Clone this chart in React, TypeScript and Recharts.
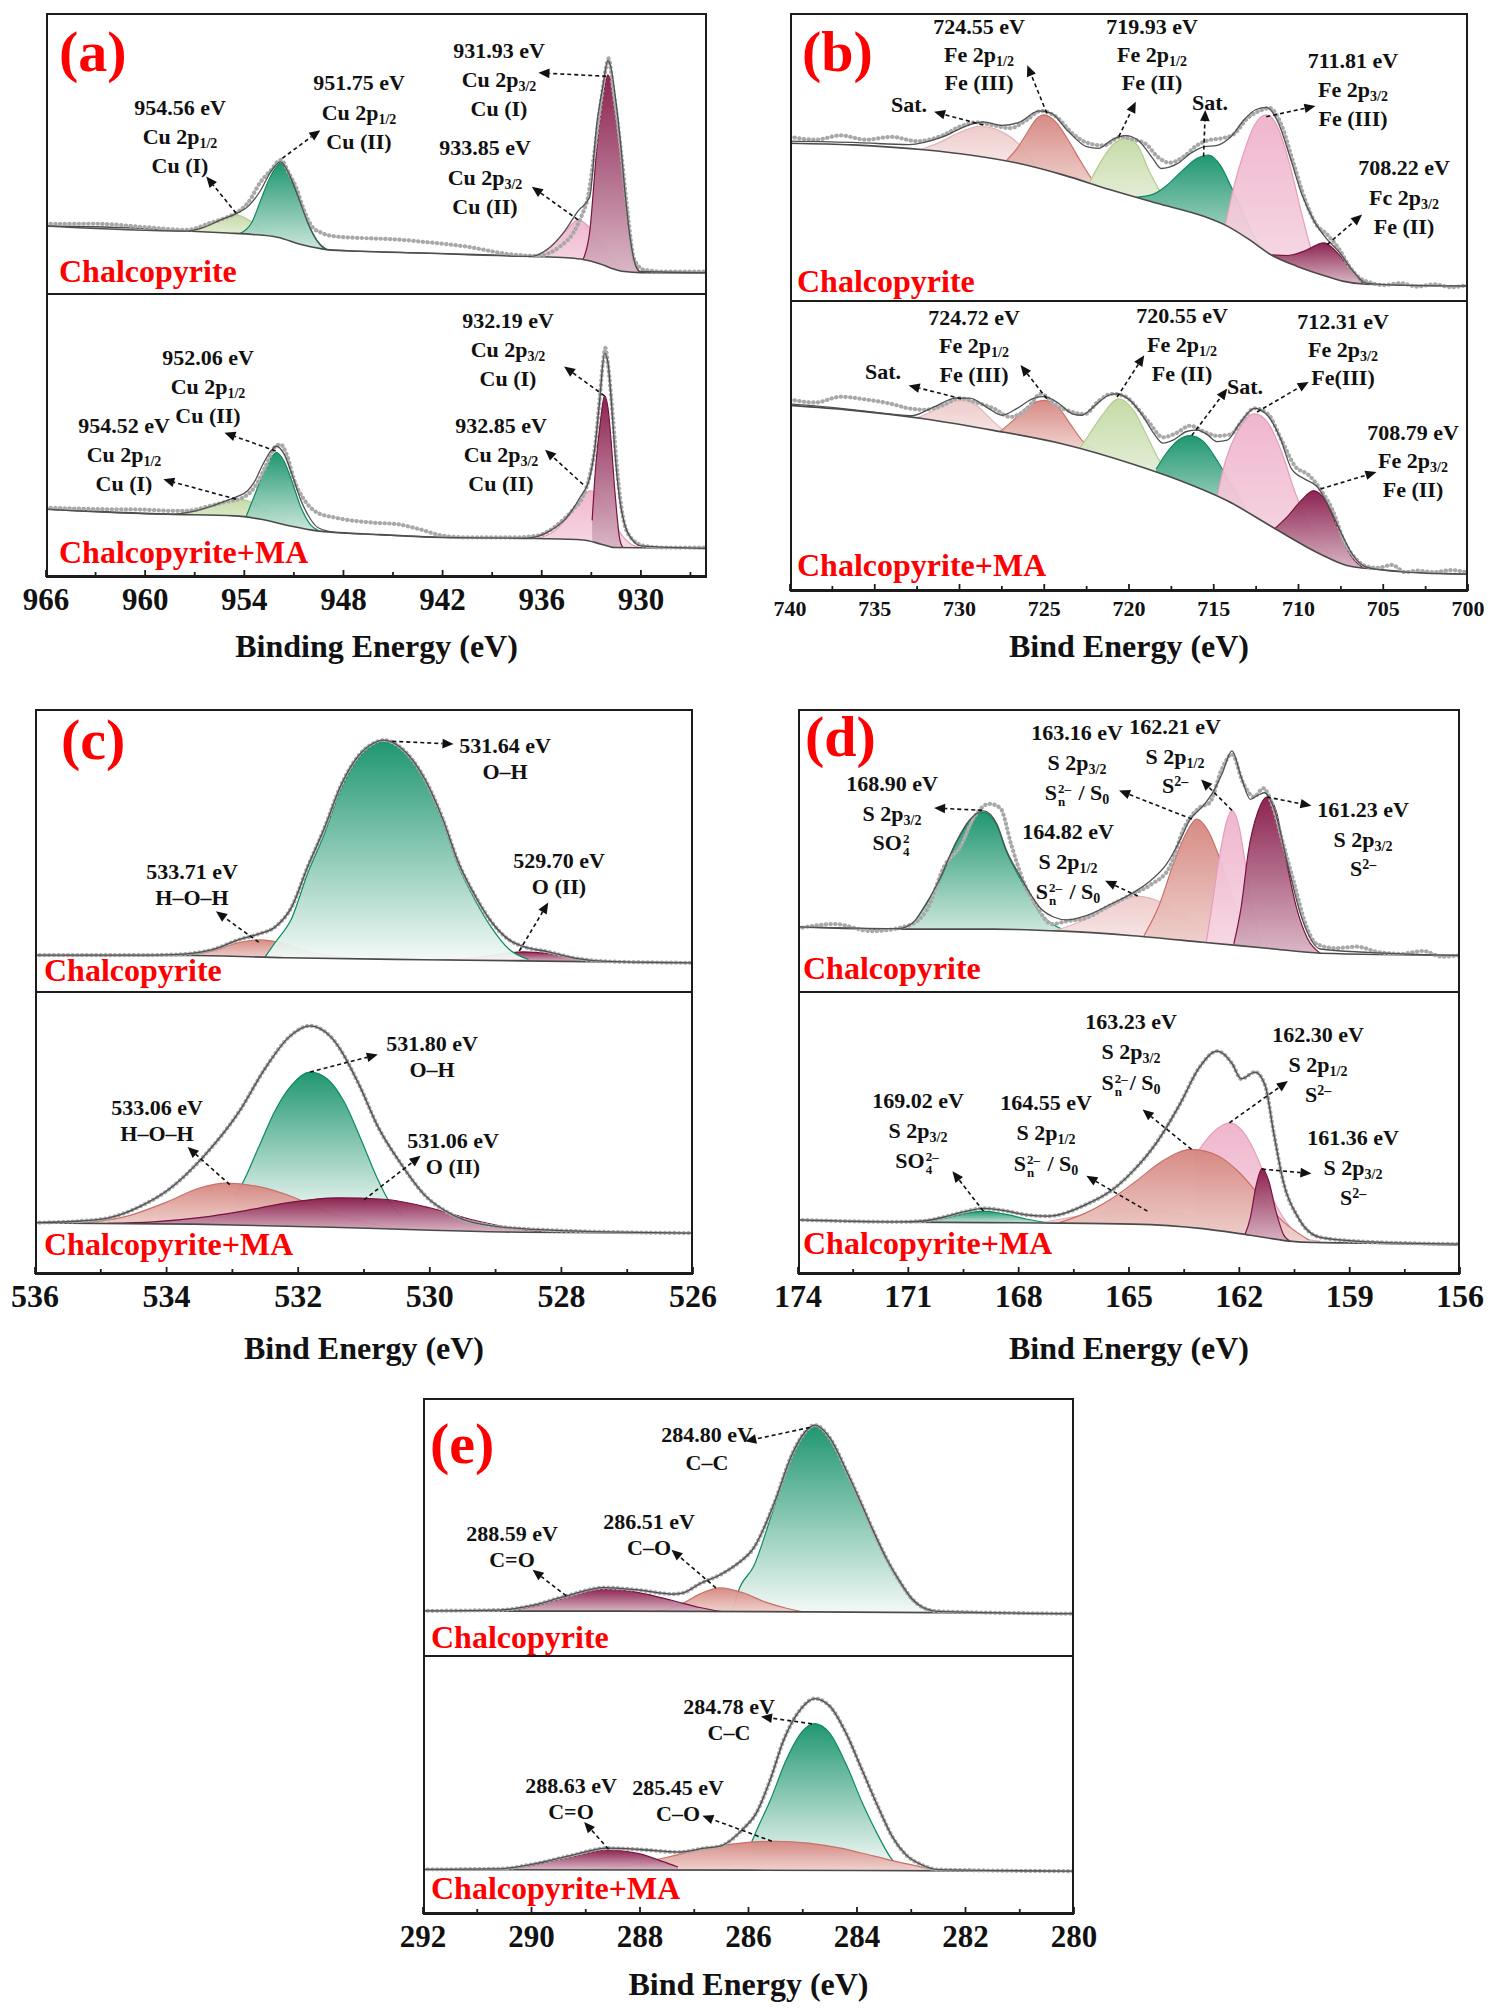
import React from "react";
import { ComposedChart, Area, Line, XAxis, YAxis, ReferenceLine } from "recharts";

type Pt = [number, number];

const FONT = "'Liberation Serif', 'Times New Roman', serif";

// ---------- (a) Cu 2p ----------
const A_MAJOR = [966, 960, 954, 948, 942, 936, 930];
const A_MINOR = [963, 957, 951, 945, 939, 933, 927];

const A1_BG: Pt[] = [[966, 24.2], [960, 23.3], [957.5, 22.4], [955, 21.7], [953.5, 21.2], [952, 20.2], [950.5, 17.5], [949, 15.8], [947, 15.2], [943.4, 14.6], [939, 13.9], [936.6, 13.4], [934.5, 12.9], [933.5, 12.3], [932.5, 10.8], [931.8, 9.2], [931, 8], [930, 7.6], [926, 7.5]];
const A1_LGREEN: Pt[] = [[957.5, 22.4], [956.5, 23.5], [955.5, 26], [954.5, 28.2], [953.5, 25.5], [952.5, 21.6], [952, 20.2]];
const A1_GREEN: Pt[] = [[954.3, 21.4], [953.5, 26], [953, 33.5], [952.4, 42], [951.8, 46.5], [951.2, 41], [950.7, 34], [950.2, 26], [949.6, 19], [949, 15.8]];
const A1_PINK: Pt[] = [[936.6, 13.4], [935.6, 16], [934.6, 22], [933.8, 26.4], [933, 23], [932.2, 16], [931.5, 11], [930.8, 8]];
const A1_MAROON: Pt[] = [[933.5, 12.3], [933.1, 22], [932.68, 51], [932.3, 70], [932, 78], [931.83, 76], [931.5, 66], [931.27, 55], [930.95, 35], [930.7, 21.7], [930.3, 9.8], [930, 7.6]];
const A1_FIT: Pt[] = [[966, 24.2], [957.5, 22.4], [956.5, 23.6], [955.5, 26.2], [954.5, 28.6], [953.8, 31], [953, 37], [952.4, 43.5], [951.8, 47], [951.2, 41.5], [950.7, 34], [950.2, 26], [949.6, 19], [949, 15.8], [943.4, 14.6], [936.6, 13.4], [935.6, 16.2], [934.6, 22.5], [933.8, 29.6], [933.1, 34.5], [932.68, 60], [932.3, 74], [932, 83], [931.83, 81], [931.5, 68], [931.27, 56], [930.95, 35.5], [930.7, 22], [930.3, 10], [930, 8], [926, 7.6]];
const A1_RAW: Pt[] = [[966, 25], [963, 25], [960, 23.8], [957.5, 22.8], [956.1, 25.2], [955.2, 27], [954.5, 28.8], [953.8, 32.3], [953, 40], [952.4, 44], [951.8, 47.7], [951.3, 43], [950.8, 37], [950.4, 30], [949.9, 24], [949.3, 21.7], [948.5, 20.5], [946.8, 19.9], [944.5, 19.3], [943.4, 18.7], [940.6, 16.9], [937.7, 14], [936.3, 13.6], [934.9, 16.9], [934.1, 21.7], [933.6, 27.6], [933.2, 34.7], [932.8, 51], [932.4, 69], [932.1, 80.8], [931.95, 83.8], [931.7, 73.7], [931.4, 60.7], [931.1, 45.3], [930.8, 28.8], [930.4, 12.2], [929.8, 8.6], [928.7, 8], [926, 8]];
const A1_ARROWS: [Pt, Pt][] = [[[954.5, 28.8], [956.3, 41.8]], [[951.7, 48.3], [949.4, 58.3]], [[932.1, 77.5], [936.2, 78.7]], [[933.8, 26.4], [936.6, 38.2]]];

const A2_BG: Pt[] = [[966, 24], [958.6, 22.2], [954.6, 21.6], [953, 20.4], [951.3, 18.1], [949.6, 16.3], [946.2, 15.1], [942, 14], [936.3, 13.6], [933.5, 13.1], [932.4, 11.6], [931.6, 10.4], [926, 10.1]];
const A2_LGREEN: Pt[] = [[958.2, 22.3], [957, 23.2], [956, 24.8], [955, 26.8], [954.4, 27.5], [953.6, 26.5], [952.8, 24], [952, 21], [951.2, 18.8], [950.6, 17.5]];
const A2_GREEN: Pt[] = [[953.9, 21.2], [953.4, 28.5], [952.9, 36], [952.4, 42], [952.06, 44], [951.6, 41], [951.1, 33.5], [950.6, 25], [950, 18.5], [949.5, 16.3]];
const A2_PINK: Pt[] = [[936.3, 13.6], [935.3, 16], [934.5, 20.5], [933.7, 27], [933.1, 30.4], [932.5, 28.5], [931.9, 22.5], [931.3, 16], [930.7, 12], [930, 10.3]];
const A2_MAROON: Pt[] = [[932.95, 20], [932.75, 38], [932.45, 55], [932.2, 64], [932, 60], [931.8, 48], [931.6, 32], [931.45, 22], [931.3, 14], [931.1, 10.5]];
const A2_FIT: Pt[] = [[966, 24], [958.5, 22.2], [957, 23.3], [956, 25], [955, 27.2], [954.4, 28.5], [953.8, 30.5], [953.4, 33.5], [952.9, 39.5], [952.4, 44.5], [952.06, 46.2], [951.6, 43.5], [951.1, 36], [950.6, 27.5], [950, 20.5], [949.5, 17.3], [948.5, 15.8], [946, 15], [942, 14], [937, 13.7], [935.5, 16.3], [934.5, 21], [933.7, 28], [933.1, 35], [932.8, 45], [932.5, 62], [932.2, 79], [932, 76], [931.8, 63], [931.6, 46], [931.3, 28], [931, 19], [930.5, 13], [930, 11], [926, 10.1]];
const A2_RAW: Pt[] = [[966, 24.5], [963, 24], [960, 23.8], [958.6, 23.4], [957.5, 23.4], [956.1, 25.1], [955.3, 26.3], [954.1, 28], [953.2, 33.3], [952.7, 39.2], [952.1, 46.2], [951.8, 46.8], [951.4, 42.7], [951, 34.5], [950.4, 27.5], [949.6, 22.8], [948.5, 21], [946.2, 19.2], [944.8, 18.7], [943.4, 16.9], [942, 14.6], [940.6, 14], [937.7, 14], [936.3, 14.6], [934.9, 19.2], [934.1, 23.9], [933.5, 28.6], [933.1, 35.7], [932.8, 45], [932.5, 62.7], [932.3, 75.6], [932.15, 80.9], [932, 75.6], [931.7, 56.8], [931.4, 35.7], [931.1, 21.6], [930.7, 14.6], [929.8, 11], [928.7, 10.4], [926, 10.4]];
const A2_ARROWS: [Pt, Pt][] = [[[952.1, 44.5], [955.2, 51]], [[954.5, 27.5], [958.9, 34.5]], [[932.2, 64], [934.65, 74.4]], [[933.5, 32.7], [935.8, 45]]];

// ---------- (b) Fe 2p ----------
const B_MAJOR = [740, 735, 730, 725, 720, 715, 710, 705, 700];
const B_MINOR = [737.5, 732.5, 727.5, 722.5, 717.5, 712.5, 707.5, 702.5];

const B1_BG: Pt[] = [[740, 54.8], [736.3, 54.2], [732.1, 52.5], [729.4, 50.7], [726.6, 47.9], [723.9, 43.8], [721.1, 38.6], [718.4, 34], [715.6, 29.4], [714.2, 26], [712.9, 21.3], [711.5, 15.6], [710.1, 12.1], [708.7, 9.2], [707.4, 6.9], [706, 5.8], [700, 5.2]];
const B1_SAT: Pt[] = [[732.3, 52.6], [731.2, 55], [730, 58.5], [728.8, 60.6], [727.6, 59], [726.5, 54.5], [725.5, 47]];
const B1_SALMON: Pt[] = [[727.2, 49], [726.6, 53], [726, 58.5], [725.5, 63], [725, 64.6], [724.3, 62], [723.6, 56], [722.8, 48], [722, 41], [721.2, 38.7]];
const B1_LGREEN: Pt[] = [[722.3, 41.5], [721.6, 49], [720.9, 54.5], [720.2, 56.5], [719.5, 54], [718.8, 45], [718.1, 37.5], [717.6, 33.2]];
const B1_GREEN: Pt[] = [[719.6, 36], [718.6, 37], [717.8, 40], [716.9, 45], [716, 49.5], [715.3, 50.7], [714.6, 47], [714, 40], [713.3, 31], [712.6, 22], [711.8, 16.5], [711.2, 14.5]];
const B1_PINK: Pt[] = [[714.3, 27], [713.8, 40], [713.2, 52], [712.6, 61], [711.9, 64.6], [711.2, 60], [710.5, 47], [709.8, 30], [709.2, 17], [708.6, 9.5]];
const B1_MAROON: Pt[] = [[711.6, 16], [710.6, 15.8], [709.6, 17.5], [708.5, 20.2], [707.6, 16], [706.8, 10], [706.2, 6.2]];
const B1_FIT: Pt[] = [[740, 55.5], [736, 55], [733, 54.3], [731, 57], [729.5, 61], [728.6, 62.2], [727.5, 61], [726.5, 62], [725.3, 66], [724.6, 65.2], [723.6, 59], [722.5, 53.6], [721.8, 53], [721, 56], [720.2, 57.4], [719.4, 55.5], [718.6, 49.5], [718.1, 46], [717.2, 47.5], [716.3, 51.5], [715.6, 53.5], [714.8, 54], [714, 57], [713.2, 63], [712.5, 66.5], [711.9, 67.2], [711.2, 62], [710.5, 50], [709.8, 37], [709.1, 28], [708.4, 22], [707.6, 17], [706.8, 10.5], [706, 6.2], [704, 5.5], [700, 5.2]];
const B1_RAW: Pt[] = [[740, 57], [738.5, 56], [737, 57.5], [735.5, 56], [734, 57], [732.5, 55.5], [731, 57.5], [730, 60.5], [729, 62], [728, 61], [727, 60], [726, 63], [725.2, 66], [724.3, 64], [723.3, 58], [722.5, 55], [721.5, 54], [720.5, 57], [719.7, 56], [719, 54.5], [718.3, 50], [717.6, 48], [716.8, 50], [716, 54], [715.2, 56], [714.5, 56.5], [713.8, 58], [713, 63.5], [712.3, 66], [711.7, 67], [711, 61], [710.3, 48], [709.6, 35], [709, 27], [708.3, 23], [707.6, 18], [707, 12], [706.4, 8], [705.8, 6.5], [705, 5.5], [704, 6.2], [703, 5], [702, 5.8], [701, 4.8], [700, 5.6]];
const B1_ARROWS: [Pt, Pt][] = [[[728.6, 61.1], [731.5, 65.7]], [[724.85, 65.2], [726, 81.9]], [[720.6, 57.1], [719.6, 69.2]], [[715.6, 50.2], [715.5, 66.3]], [[711.9, 64], [709, 67.7]], [[708.3, 19.6], [706.25, 30]]];

const B2_BG: Pt[] = [[740, 64], [736.3, 62.3], [732.1, 59.4], [728, 55.4], [723.9, 50.7], [719.8, 43.8], [717, 38.1], [714.2, 31.1], [711.5, 21.9], [708.7, 12.7], [707.1, 8.7], [705.4, 7.5], [700, 5.8]];
const B2_SAT: Pt[] = [[732.5, 59.7], [731.6, 62], [730.6, 65], [729.9, 65.7], [729, 64], [728.1, 59], [727.2, 54.5], [726.4, 52.5]];
const B2_SALMON: Pt[] = [[727.6, 55], [726.8, 59], [726, 63.5], [725, 65.7], [724.2, 63.5], [723.4, 57], [722.7, 51.5], [722.1, 49]];
const B2_LGREEN: Pt[] = [[722.9, 49.3], [722.4, 53.5], [721.6, 60.5], [720.6, 66.3], [719.7, 62], [718.9, 53], [718.2, 45], [717.5, 40], [716.8, 37]];
const B2_GREEN: Pt[] = [[718.4, 42], [717.8, 47.5], [717.1, 52], [716.4, 53.6], [715.6, 51.5], [714.8, 45], [714, 37], [713.2, 29], [712.4, 22.5], [711.8, 20.5]];
const B2_PINK: Pt[] = [[714.8, 33], [714.3, 45], [713.6, 55], [712.6, 61.1], [711.8, 58], [711, 48], [710.2, 34], [709.4, 23], [708.6, 16], [707.8, 10.5]];
const B2_MAROON: Pt[] = [[711.4, 21.5], [710.6, 26], [709.8, 31.5], [709.1, 34.6], [708.4, 31], [707.7, 22], [707, 13], [706.3, 8.5], [705.8, 7.5]];
const B2_FIT: Pt[] = [[740, 64.5], [737, 63], [734, 61], [732.8, 60.5], [731.5, 63.5], [730.2, 66.5], [729.4, 66.5], [728.3, 63], [727.5, 60.6], [726.6, 63], [725.6, 66.5], [725, 67], [724.1, 64.5], [723.3, 61], [722.8, 60.6], [722, 64], [721.2, 67.5], [720.7, 68], [720, 66], [719.2, 60.5], [718.5, 54], [718, 51], [717.4, 52], [716.6, 55], [716, 55.5], [715.4, 54], [714.8, 51.5], [714.2, 52], [713.5, 57.5], [712.6, 63], [711.9, 61], [711.1, 53], [710.4, 42], [709.6, 38.5], [708.9, 36], [708.2, 29], [707.4, 19], [706.8, 12.5], [706.1, 8.5], [705, 7.2], [703, 6.3], [700, 5.8]];
const B2_RAW: Pt[] = [[740, 66], [738.5, 65], [737, 67], [735.5, 66], [734, 64.5], [733, 63], [732, 62.5], [731, 64], [730, 66.5], [729, 65], [728, 63], [727, 60], [726, 63], [725.2, 68], [724.3, 64], [723.5, 62], [722.6, 61], [721.8, 65.5], [721, 68], [720.2, 67], [719.5, 63], [718.8, 58], [718, 53], [717.2, 54.5], [716.4, 57], [715.6, 55], [714.8, 53.5], [714, 54], [713.3, 59], [712.6, 63], [711.8, 61], [711, 52], [710.2, 43], [709.4, 40], [708.7, 35], [708, 28], [707.3, 17], [706.6, 11], [706, 8.5], [705.3, 8], [704.5, 9], [703.7, 6.5], [703, 7], [702, 6.5], [701, 7.2], [700, 6.3]];
const B2_ARROWS: [Pt, Pt][] = [[[729.9, 66.3], [733, 70.9]], [[724.85, 66.3], [726.4, 77.9]], [[720.7, 66.9], [719.1, 81.3]], [[716.3, 53.6], [714.2, 69.8]], [[712.45, 61.7], [709.4, 72.1]], [[708.7, 35.2], [705.4, 41]]];

// ---------- (c) O 1s ----------
const C_MAJOR = [536, 534, 532, 530, 528, 526];
const C_MINOR = [535, 533, 531, 529, 527];

const C1_BG: Pt[] = [[536, 12.9], [533.6, 12.9], [532.2, 12.1], [530.1, 11.4], [528.6, 11], [526, 10.3]];
const C1_SALMON: Pt[] = [[533.7, 12.9], [533.3, 14.5], [532.9, 17.5], [532.6, 18.4], [532.2, 17], [531.9, 14.5], [531.5, 12.8], [531.1, 11.9]];
const C1_MAROON: Pt[] = [[529.9, 11.3], [529.3, 12.2], [528.9, 13.5], [528.57, 14.2], [528.2, 13.6], [527.8, 12], [527.35, 10.7]];
const C1_GREEN: Pt[] = [[532.5, 12.5], [532.35, 17.5], [532.1, 26], [531.86, 41.7], [531.6, 56], [531.36, 71.2], [531.1, 82], [530.85, 87.5], [530.7, 88.3], [530.45, 86], [530.07, 74.3], [529.8, 60], [529.57, 44.8], [529.3, 32], [529.07, 23], [528.8, 15.2], [528.5, 11.5]];
const C1_FIT: Pt[] = [[536, 13], [534.5, 13], [533.9, 13.2], [533.3, 15], [532.9, 18.5], [532.6, 20.5], [532.35, 23], [532.1, 30], [531.86, 44], [531.6, 58], [531.36, 72.5], [531.1, 83], [530.85, 88], [530.7, 89], [530.45, 86.5], [530.07, 75], [529.8, 61], [529.57, 46], [529.3, 33.5], [529.07, 25], [528.8, 18.5], [528.57, 16], [528.2, 14.2], [527.8, 12], [527.3, 10.8], [526, 10.3]];
const C1_ARROWS: [Pt, Pt][] = [[[530.57, 88.6], [529.64, 87.6]], [[532.6, 17.6], [533.25, 28.5]], [[528.64, 14.5], [528.2, 31.6]]];

const C2_BG: Pt[] = [[536, 18.1], [533.6, 17.7], [531.5, 16.6], [530.1, 15.6], [528.6, 14.8], [526, 14.5]];
const C2_GREEN: Pt[] = [[532.95, 28], [532.85, 32], [532.6, 45], [532.35, 58], [532.1, 67], [531.82, 71.6], [531.55, 69], [531.3, 61], [531.05, 48], [530.8, 34], [530.6, 25], [530.4, 20]];
const C2_SALMON: Pt[] = [[535.3, 18], [534.6, 20.5], [534, 25.5], [533.5, 30.5], [533.1, 32.2], [532.6, 31], [532.1, 27.5], [531.6, 22.5], [531.1, 19], [530.6, 16.5]];
const C2_MAROON: Pt[] = [[534.9, 18], [534.2, 18.5], [533.5, 20], [532.8, 22.5], [532.1, 25.5], [531.4, 27], [530.7, 26.5], [530, 23.5], [529.4, 19.5], [528.8, 16.5], [528.2, 14.7]];
const C2_FIT: Pt[] = [[536, 18.2], [535.3, 18.8], [534.86, 20], [534.4, 24], [534, 29.4], [533.43, 41.9], [532.9, 57.5], [532.5, 73], [532.14, 84], [531.82, 88], [531.5, 84], [531.07, 66.9], [530.8, 52.8], [530.43, 38.8], [530.07, 27.8], [529.64, 20.8], [529, 16.9], [527.9, 15.3], [526, 14.5]];
const C2_ARROWS: [Pt, Pt][] = [[[531.82, 71.6], [530.79, 77.8]], [[533.04, 31.7], [533.68, 45]], [[531, 26.3], [530.14, 41.9]]];

// ---------- (d) S 2p ----------
const D_MAJOR = [174, 171, 168, 165, 162, 159, 156];
const D_MINOR = [172.5, 169.5, 166.5, 163.5, 160.5, 157.5];

const D1_BG: Pt[] = [[174, 23], [171.26, 22.2], [168.7, 22.2], [166.8, 21.5], [164.9, 19.9], [163, 17.6], [161.06, 15.2], [159.8, 13.7], [156, 12.9]];
const D1_GREEN: Pt[] = [[171.3, 22.2], [170.9, 24], [170.6, 29.2], [170.2, 38], [169.7, 52.6], [169.35, 60.3], [168.96, 63.5], [168.6, 59], [168.33, 49.5], [168, 41], [167.7, 33.9], [167.4, 27.5], [167.05, 23.8], [166.7, 21.6]];
const D1_LPINK: Pt[] = [[167, 21.7], [166.3, 25], [165.6, 29.5], [164.8, 33.9], [164, 31], [163.3, 25], [162.7, 20], [162.2, 17.2]];
const D1_SALMON: Pt[] = [[164.6, 19.7], [164.2, 30], [163.8, 45], [163.45, 56], [163.16, 61.1], [162.85, 57], [162.5, 46], [162.15, 32], [161.8, 22], [161.5, 16.5]];
const D1_PINK: Pt[] = [[162.9, 17.5], [162.75, 30], [162.55, 47], [162.35, 60], [162.2, 64.2], [162, 58], [161.8, 42], [161.6, 27], [161.4, 16.5]];
const D1_MAROON: Pt[] = [[162.15, 17], [161.95, 30], [161.75, 50], [161.5, 63.5], [161.25, 68.9], [161, 64], [160.75, 48], [160.45, 30], [160.15, 19], [159.8, 13.7]];
const D1_FIT: Pt[] = [[174, 23], [171.3, 22.4], [170.9, 24.2], [170.6, 29.5], [170.2, 38.5], [169.7, 53], [169.35, 60.5], [168.96, 64], [168.6, 59.5], [168.33, 50], [168, 41.8], [167.7, 35], [167.4, 29.5], [167.05, 26.5], [166.7, 25.5], [166.16, 27], [165.5, 31], [164.9, 35], [164.4, 39.5], [163.99, 45], [163.6, 54], [163.36, 60.5], [162.97, 66], [162.7, 71], [162.46, 77.4], [162.2, 85.2], [161.95, 76], [161.7, 68.1], [161.5, 69.5], [161.32, 70.4], [161.06, 65], [160.68, 44.8], [160.3, 26.1], [159.8, 15.2], [158.5, 14], [156, 12.9]];
const D1_RAW: Pt[] = [[174, 22.5], [173, 24], [172, 21.5], [171, 23.5], [170.5, 29], [170, 45], [169.6, 51], [169.2, 62], [168.8, 66.5], [168.5, 65], [168.2, 52], [167.9, 40], [167.5, 30], [167.1, 24], [166.7, 25], [166.2, 26], [165.6, 30], [165, 34], [164.4, 38], [163.9, 44], [163.5, 58], [163.1, 65], [162.8, 67], [162.5, 78], [162.2, 84], [161.9, 74], [161.6, 69], [161.35, 72], [161.1, 66], [160.8, 52], [160.5, 38], [160.2, 24], [159.9, 17], [159.4, 15.5], [158.8, 16], [158.2, 14], [157.6, 13.5], [157, 14.5], [156.5, 12.5], [156, 13]];
const D1_ARROWS: [Pt, Pt][] = [[[168.99, 64.2], [170.3, 65]], [[163.29, 61.1], [165.27, 71.2]], [[164.76, 33.9], [165.65, 39.3]], [[162.2, 64.2], [163.04, 75.1]], [[161.25, 68.9], [160.04, 65.8]]];

const D2_BG: Pt[] = [[174, 19.2], [171.26, 18.4], [167.4, 18.1], [164.9, 17.7], [163, 16.1], [161.7, 13.75], [160.4, 11.4], [158.5, 10.9], [156, 10.3]];
const D2_GREEN: Pt[] = [[170.6, 18.3], [170, 19.8], [169.5, 21.3], [168.96, 22.3], [168.4, 21.3], [167.8, 19.5], [167.2, 18.1]];
const D2_LPINK: Pt[] = [[167.4, 18.1], [166.4, 20.5], [165.5, 22.5], [164.8, 23.1], [164, 22.5], [163.2, 20], [162.4, 16.5], [161.5, 13.5]];
const D2_PINK: Pt[] = [[163.2, 42], [162.9, 47.5], [162.6, 51.5], [162.27, 53.6], [161.9, 50.5], [161.5, 41], [161.1, 27], [160.7, 18], [160.2, 12.5], [159.8, 11.6]];
const D2_SALMON: Pt[] = [[166.9, 18.2], [166.2, 21.5], [165.5, 26.5], [164.8, 33], [164.1, 40], [163.3, 44.2], [162.6, 42], [162, 36], [161.4, 27], [160.8, 18.5], [160.1, 12]];
const D2_MAROON: Pt[] = [[161.85, 13.8], [161.7, 20], [161.55, 31], [161.38, 37.5], [161.2, 33], [161, 22], [160.8, 14], [160.6, 11.4]];
const D2_FIT: Pt[] = [[174, 19.2], [171.3, 18.5], [170.6, 18.8], [170, 20.3], [169.5, 22], [168.96, 23.3], [168.4, 22.5], [167.8, 21], [167.2, 20.5], [166.16, 24.7], [165.5, 29.4], [164.9, 36.4], [164.25, 46.6], [163.6, 60.6], [163.1, 73], [162.6, 79], [162.2, 74.7], [161.95, 69.2], [161.57, 71.6], [161.3, 66.9], [161.06, 49.7], [160.8, 32.5], [160.4, 20], [159.8, 13], [158.5, 11.4], [156, 10.6]];
const D2_ARROWS: [Pt, Pt][] = [[[163.3, 44.2], [164.63, 58.3]], [[162.27, 53.6], [160.68, 68.4]], [[168.96, 22.3], [169.8, 36.4]], [[164.5, 22.3], [166.16, 34.8]], [[161.38, 37.2], [160.04, 35.6]]];

// ---------- (e) C 1s ----------
const E_MAJOR = [292, 290, 288, 286, 284, 282, 280];
const E_MINOR = [291, 289, 287, 285, 283, 281];

const E1_BG: Pt[] = [[292, 17.4], [288.3, 17.4], [285, 17.1], [282.6, 16.8], [280, 16.3]];
const E1_MAROON: Pt[] = [[290.6, 17.4], [290, 19], [289.4, 22.5], [288.66, 26.1], [288, 24.5], [287.4, 21.5], [286.9, 18.8], [286.5, 17.2]];
const E1_SALMON: Pt[] = [[287.6, 17.4], [287.2, 20.5], [286.9, 24], [286.52, 26.4], [286.1, 24.5], [285.7, 21], [285.3, 18.5], [285, 17.1]];
const E1_GREEN: Pt[] = [[286.3, 17.2], [286.19, 25], [285.9, 35], [285.53, 57.5], [285.2, 77], [284.95, 86.5], [284.78, 89], [284.5, 84], [284.2, 71.5], [283.95, 60], [283.7, 48.2], [283.45, 37], [283.2, 28], [283, 22], [282.8, 18.7], [282.5, 16.8]];
const E1_FIT: Pt[] = [[292, 17.5], [290.6, 17.8], [290, 19.5], [289.4, 23], [288.66, 26.5], [288, 25.5], [287.4, 24], [287.2, 24.5], [286.9, 28], [286.52, 31.5], [286.19, 36], [285.9, 42], [285.53, 59], [285.2, 78], [284.95, 87], [284.78, 89.5], [284.5, 84.5], [284.2, 72], [283.95, 60.5], [283.7, 48.5], [283.45, 37.5], [283.2, 28.5], [283, 22.5], [282.8, 19], [282.5, 17.3], [280, 16.4]];
const E1_ARROWS: [Pt, Pt][] = [[[284.87, 88.6], [286.06, 83.2]], [[286.6, 26.4], [287.42, 41.2]], [[289.36, 23.3], [289.98, 33.4]]];

const E2_BG: Pt[] = [[292, 17.2], [286, 17], [282, 16.7], [280, 16.6]];
const E2_GREEN: Pt[] = [[285.95, 27.5], [285.86, 32], [285.6, 44], [285.3, 60], [285, 71], [284.78, 73.8], [284.5, 70], [284.2, 58], [283.9, 43], [283.6, 30], [283.35, 21], [283.1, 18]];
const E2_SALMON: Pt[] = [[288.9, 17.2], [288.2, 19], [287.5, 22], [286.8, 25.5], [286.1, 27.6], [285.5, 28.2], [284.9, 27.5], [284.3, 25.5], [283.7, 22.5], [283.1, 19.5], [282.5, 16.8]];
const E2_MAROON: Pt[] = [[290.6, 17.2], [290, 18.8], [289.3, 22], [288.6, 24.8], [288, 23.3], [287.6, 20.5], [287.3, 18.2]];
const E2_FIT: Pt[] = [[292, 17.3], [290.6, 17.5], [290, 19.2], [289.3, 22.5], [288.6, 25.5], [288, 25], [287.3, 24], [286.8, 25.5], [286.52, 26.3], [286.1, 33], [285.86, 39], [285.6, 52], [285.36, 67], [285.03, 79.6], [284.78, 83.5], [284.5, 80.5], [284.2, 70], [283.9, 55.5], [283.6, 41], [283.35, 30], [283.1, 23], [282.8, 19], [282.5, 17.2], [280, 16.6]];
const E2_ARROWS: [Pt, Pt][] = [[[284.83, 73.7], [285.77, 76.5]], [[288.58, 25.1], [289.03, 35.7]], [[285.57, 28.2], [286.85, 38.1]]];

// ---------- styles ----------
const GREEN = { color: "#14916a", light: "#c9e6d9", line: "#0b8a60" };
const GREEN_PALE = { color: "#14916a", light: "#f3f9f6", line: "#0b8a60" };
const LGREEN = { color: "#c3d9a3", light: "#e6efda", line: "#b3cc8e" };
const MAROON = { color: "#861848", light: "#d8b3c3", line: "#7a1340" };
const PINK = { color: "#efb2cb", light: "#f6d8e4", line: "#e59dbb" };
const SALMON = { color: "#d5857e", light: "#efd0cc", line: "#c97069" };
const SATPINK = { color: "#eec9c9", light: "#f7e6e6", line: "#e4b7b7" };

interface Peak { key: string; pts: Pt[]; color: string; light: string; line: string }
interface Sub { id: string; bg: Pt[]; fit: Pt[]; raw?: Pt[]; peaks: Peak[]; arrows: [Pt, Pt][] }

const SUB_A1: Sub = { id: "a1", bg: A1_BG, fit: A1_FIT, raw: A1_RAW, arrows: A1_ARROWS, peaks: [
  { key: "p1", pts: A1_LGREEN, ...LGREEN }, { key: "p2", pts: A1_GREEN, ...GREEN },
  { key: "p3", pts: A1_PINK, ...PINK }, { key: "p4", pts: A1_MAROON, ...MAROON }] };
const SUB_A2: Sub = { id: "a2", bg: A2_BG, fit: A2_FIT, raw: A2_RAW, arrows: A2_ARROWS, peaks: [
  { key: "p1", pts: A2_LGREEN, ...LGREEN }, { key: "p2", pts: A2_GREEN, ...GREEN },
  { key: "p3", pts: A2_PINK, ...PINK }, { key: "p4", pts: A2_MAROON, ...MAROON }] };
const SUB_B1: Sub = { id: "b1", bg: B1_BG, fit: B1_FIT, raw: B1_RAW, arrows: B1_ARROWS, peaks: [
  { key: "p1", pts: B1_SAT, ...SATPINK }, { key: "p2", pts: B1_SALMON, ...SALMON },
  { key: "p3", pts: B1_LGREEN, ...LGREEN }, { key: "p4", pts: B1_GREEN, ...GREEN },
  { key: "p5", pts: B1_PINK, ...PINK }, { key: "p6", pts: B1_MAROON, ...MAROON }] };
const SUB_B2: Sub = { id: "b2", bg: B2_BG, fit: B2_FIT, raw: B2_RAW, arrows: B2_ARROWS, peaks: [
  { key: "p1", pts: B2_SAT, ...SATPINK }, { key: "p2", pts: B2_SALMON, ...SALMON },
  { key: "p3", pts: B2_LGREEN, ...LGREEN }, { key: "p4", pts: B2_GREEN, ...GREEN },
  { key: "p5", pts: B2_PINK, ...PINK }, { key: "p6", pts: B2_MAROON, ...MAROON }] };
const SUB_C1: Sub = { id: "c1", bg: C1_BG, fit: C1_FIT, arrows: C1_ARROWS, peaks: [
  { key: "p1", pts: C1_SALMON, ...SALMON }, { key: "p2", pts: C1_MAROON, ...MAROON },
  { key: "p3", pts: C1_GREEN, ...GREEN_PALE }] };
const SUB_C2: Sub = { id: "c2", bg: C2_BG, fit: C2_FIT, arrows: C2_ARROWS, peaks: [
  { key: "p1", pts: C2_GREEN, ...GREEN_PALE }, { key: "p2", pts: C2_SALMON, ...SALMON },
  { key: "p3", pts: C2_MAROON, ...MAROON }] };
const SUB_D1: Sub = { id: "d1", bg: D1_BG, fit: D1_FIT, raw: D1_RAW, arrows: D1_ARROWS, peaks: [
  { key: "p1", pts: D1_GREEN, ...GREEN }, { key: "p2", pts: D1_LPINK, ...SATPINK },
  { key: "p3", pts: D1_SALMON, ...SALMON }, { key: "p4", pts: D1_PINK, ...PINK },
  { key: "p5", pts: D1_MAROON, ...MAROON }] };
const SUB_D2: Sub = { id: "d2", bg: D2_BG, fit: D2_FIT, arrows: D2_ARROWS, peaks: [
  { key: "p1", pts: D2_GREEN, ...GREEN }, { key: "p2", pts: D2_LPINK, ...SATPINK },
  { key: "p3", pts: D2_PINK, ...PINK }, { key: "p4", pts: D2_SALMON, ...SALMON },
  { key: "p5", pts: D2_MAROON, ...MAROON }] };
const SUB_E1: Sub = { id: "e1", bg: E1_BG, fit: E1_FIT, arrows: E1_ARROWS, peaks: [
  { key: "p1", pts: E1_GREEN, ...GREEN_PALE }, { key: "p2", pts: E1_SALMON, ...SALMON },
  { key: "p3", pts: E1_MAROON, ...MAROON }] };
const SUB_E2: Sub = { id: "e2", bg: E2_BG, fit: E2_FIT, arrows: E2_ARROWS, peaks: [
  { key: "p1", pts: E2_GREEN, ...GREEN_PALE }, { key: "p2", pts: E2_SALMON, ...SALMON },
  { key: "p3", pts: E2_MAROON, ...MAROON }] };

const PANELS = [
  { key: "a", left: 46, top: 13, width: 661, hTop: 281, hBot: 283, domain: [926, 966], majors: A_MAJOR, minors: A_MINOR, tickFont: 31, tickDy: 33, title: "Binding Energy (eV)", titleBase: 657, subs: [SUB_A1, SUB_A2] },
  { key: "b", left: 790, top: 13, width: 678, hTop: 288, hBot: 290, domain: [700, 740], majors: B_MAJOR, minors: B_MINOR, tickFont: 22, tickDy: 25, title: "Bind Energy (eV)", titleBase: 657, subs: [SUB_B1, SUB_B2] },
  { key: "c", left: 35, top: 709, width: 658, hTop: 283, hBot: 282, domain: [526, 536], majors: C_MAJOR, minors: C_MINOR, tickFont: 32, tickDy: 33, title: "Bind Energy (eV)", titleBase: 1359, subs: [SUB_C1, SUB_C2] },
  { key: "d", left: 798, top: 709, width: 662, hTop: 283, hBot: 282, domain: [156, 174], majors: D_MAJOR, minors: D_MINOR, tickFont: 32, tickDy: 33, title: "Bind Energy (eV)", titleBase: 1359, subs: [SUB_D1, SUB_D2] },
  { key: "e", left: 423, top: 1398, width: 651, hTop: 258, hBot: 258, domain: [280, 292], majors: E_MAJOR, minors: E_MINOR, tickFont: 31, tickDy: 33, title: "Bind Energy (eV)", titleBase: 1995, subs: [SUB_E1, SUB_E2] },
];

// ---------- text ----------
const Sb = ({ c }: { c: string }) => (
  <sub style={{ fontSize: 14, verticalAlign: "-0.28em", lineHeight: 0 }}>{c}</sub>
);
const Sp = ({ c }: { c: string }) => (
  <sup style={{ fontSize: 14, verticalAlign: "0.5em", lineHeight: 0 }}>{c}</sup>
);
const Stack = ({ top, bot }: { top: string; bot: string }) => (
  <span style={{ display: "inline-flex", flexDirection: "column", verticalAlign: "middle", fontSize: 13, lineHeight: "13px", textAlign: "left", marginLeft: 1, marginRight: 2 }}>
    <span>{top}</span>
    <span>{bot}</span>
  </span>
);
const cu = (s: string) => <>Cu 2p<Sb c={s} /></>;
const fe = (s: string) => <>Fe 2p<Sb c={s} /></>;
const s2p = (s: string) => <>S 2p<Sb c={s} /></>;
const sn = (gap: string) => <>S<Stack top="2–" bot="n" />{gap}/ S<Sb c="0" /></>;
const s2 = <>S<Sp c="2–" /></>;

interface PeakLabel { x: number; y: number; lh?: number; lines: React.ReactNode[] }
const PEAK_LABELS: PeakLabel[] = [
  { x: 180, y: 107, lh: 29, lines: ["954.56 eV", cu("1/2"), "Cu (I)"] },
  { x: 359, y: 83, lh: 29.5, lines: ["951.75 eV", cu("1/2"), "Cu (II)"] },
  { x: 499, y: 50, lh: 29, lines: ["931.93 eV", cu("3/2"), "Cu (I)"] },
  { x: 485, y: 148, lh: 29.5, lines: ["933.85 eV", cu("3/2"), "Cu (II)"] },
  { x: 508, y: 320, lh: 29, lines: ["932.19 eV", cu("3/2"), "Cu (I)"] },
  { x: 501, y: 425, lh: 29, lines: ["932.85 eV", cu("3/2"), "Cu (II)"] },
  { x: 208, y: 357, lh: 29, lines: ["952.06 eV", cu("1/2"), "Cu (II)"] },
  { x: 124, y: 425, lh: 29, lines: ["954.52 eV", cu("1/2"), "Cu (I)"] },
  { x: 979, y: 27, lh: 28, lines: ["724.55 eV", fe("1/2"), "Fe (III)"] },
  { x: 1152, y: 27, lh: 28, lines: ["719.93 eV", fe("1/2"), "Fe (II)"] },
  { x: 909, y: 105, lines: ["Sat."] },
  { x: 1210, y: 103, lines: ["Sat."] },
  { x: 1353, y: 60, lh: 29, lines: ["711.81 eV", fe("3/2"), "Fe (III)"] },
  { x: 1404, y: 168, lh: 29.5, lines: ["708.22 eV", <>Fc 2p<Sb c="3/2" /></>, "Fe (II)"] },
  { x: 974, y: 318, lh: 28.5, lines: ["724.72 eV", fe("1/2"), "Fe (III)"] },
  { x: 1182, y: 315, lh: 29, lines: ["720.55 eV", fe("1/2"), "Fe (II)"] },
  { x: 1343, y: 322, lh: 28, lines: ["712.31 eV", fe("3/2"), "Fe(III)"] },
  { x: 1413, y: 433, lh: 28.5, lines: ["708.79 eV", fe("3/2"), "Fe (II)"] },
  { x: 883, y: 372, lines: ["Sat."] },
  { x: 1245, y: 387, lines: ["Sat."] },
  { x: 505, y: 746, lh: 26.5, lines: ["531.64 eV", "O–H"] },
  { x: 192, y: 872, lh: 26.5, lines: ["533.71 eV", "H–O–H"] },
  { x: 559, y: 861, lh: 26.5, lines: ["529.70 eV", "O (II)"] },
  { x: 432, y: 1044, lh: 26.5, lines: ["531.80 eV", "O–H"] },
  { x: 157, y: 1108, lh: 26.5, lines: ["533.06 eV", "H–O–H"] },
  { x: 453, y: 1141, lh: 26.5, lines: ["531.06 eV", "O (II)"] },
  { x: 892, y: 784, lh: 29.5, lines: ["168.90 eV", s2p("3/2"), <>SO<Stack top="2" bot="4" /></>] },
  { x: 1077, y: 733, lh: 30, lines: ["163.16 eV", s2p("3/2"), sn(" ")] },
  { x: 1175, y: 727, lh: 29.5, lines: ["162.21 eV", s2p("1/2"), s2] },
  { x: 1068, y: 832, lh: 30, lines: ["164.82 eV", s2p("1/2"), sn(" ")] },
  { x: 1363, y: 810, lh: 29.5, lines: ["161.23 eV", s2p("3/2"), s2] },
  { x: 1131, y: 1022, lh: 30.5, lines: ["163.23 eV", s2p("3/2"), sn("")] },
  { x: 1318, y: 1035, lh: 30, lines: ["162.30 eV", s2p("1/2"), s2] },
  { x: 918, y: 1101, lh: 30, lines: ["169.02 eV", s2p("3/2"), <>SO<Stack top="2–" bot="4" /></>] },
  { x: 1046, y: 1103, lh: 30.5, lines: ["164.55 eV", s2p("1/2"), sn(" ")] },
  { x: 1353, y: 1138, lh: 30, lines: ["161.36 eV", s2p("3/2"), s2] },
  { x: 707, y: 1435, lh: 28, lines: ["284.80 eV", "C–C"] },
  { x: 649, y: 1522, lh: 26.5, lines: ["286.51 eV", "C–O"] },
  { x: 512, y: 1534, lh: 26.5, lines: ["288.59 eV", "C=O"] },
  { x: 729, y: 1707, lh: 26.5, lines: ["284.78 eV", "C–C"] },
  { x: 571, y: 1786, lh: 26.5, lines: ["288.63 eV", "C=O"] },
  { x: 678, y: 1788, lh: 26.5, lines: ["285.45 eV", "C–O"] },
];

const LETTERS = [
  { t: "(a)", x: 59, base: 72 }, { t: "(b)", x: 802, base: 72 }, { t: "(c)", x: 61, base: 760 },
  { t: "(d)", x: 805, base: 757 }, { t: "(e)", x: 430, base: 1464 },
];
const SAMPLES = [
  { t: "Chalcopyrite", x: 59, base: 282 }, { t: "Chalcopyrite+MA", x: 59, base: 563 },
  { t: "Chalcopyrite", x: 797, base: 292 }, { t: "Chalcopyrite+MA", x: 797, base: 576 },
  { t: "Chalcopyrite", x: 44, base: 981 }, { t: "Chalcopyrite+MA", x: 44, base: 1255 },
  { t: "Chalcopyrite", x: 803, base: 979 }, { t: "Chalcopyrite+MA", x: 803, base: 1254 },
  { t: "Chalcopyrite", x: 431, base: 1648 }, { t: "Chalcopyrite+MA", x: 431, base: 1899 },
];

// ---------- chart pieces ----------
function buildRows(sub: Sub) {
  const map = new Map<number, any>();
  const put = (key: string, pts: Pt[]) =>
    pts.forEach(([x, y]) => {
      const r = map.get(x) ?? { x };
      r[key] = y;
      map.set(x, r);
    });
  put("bg", sub.bg);
  put("fit", sub.fit);
  put("raw", sub.raw ?? sub.fit);
  sub.peaks.forEach((p) => put(p.key, p.pts));
  return [...map.values()].sort((a, b) => b.x - a.x);
}

const ArrowShape = (props: any) => {
  const { x1, y1, x2, y2 } = props;
  if ([x1, y1, x2, y2].some((v) => typeof v !== "number" || isNaN(v))) return <g />;
  const a = Math.atan2(y2 - y1, x2 - x1);
  const L = 11;
  const w = 4.8;
  const bx = x2 - L * Math.cos(a);
  const by = y2 - L * Math.sin(a);
  const pts = `${x2},${y2} ${bx + w * Math.sin(a)},${by - w * Math.cos(a)} ${bx - w * Math.sin(a)},${by + w * Math.cos(a)}`;
  return (
    <g>
      <line x1={x1} y1={y1} x2={bx} y2={by} stroke="#111" strokeWidth={1.6} strokeDasharray="4 3" />
      <polygon points={pts} fill="#111" />
    </g>
  );
};

function makeTick(majors: number[], fontSize: number, dy: number) {
  return (props: any) => {
    const { x, y, payload } = props;
    const major = majors.includes(payload.value);
    return (
      <g>
        <line x1={x} x2={x} y1={y} y2={y - (major ? 7 : 5)} stroke="#1c1c1c" strokeWidth={1.8} />
        {major && (
          <text x={x} y={y + dy} textAnchor="middle" fontSize={fontSize} fontWeight="bold" fontFamily={FONT} fill="#111">
            {payload.value}
          </text>
        )}
      </g>
    );
  };
}

const AXIS_H = 60;

function SubChart({ sub, width, height, domain, ticks, tick }: any) {
  const rows = buildRows(sub);
  const axis = !!ticks;
  return (
    <ComposedChart
      width={width + 60}
      height={height + (axis ? AXIS_H : 0)}
      data={rows}
      margin={{ top: 0, right: 30, bottom: 0, left: 30 }}
    >
      <defs>
        {sub.peaks.map((pk: Peak) => (
          <linearGradient key={pk.key} id={`${sub.id}-${pk.key}`} x1="0" y1="0" x2="0" y2="1">
            <stop offset="0%" stopColor={pk.color} />
            <stop offset="100%" stopColor={pk.light} />
          </linearGradient>
        ))}
      </defs>
      <XAxis
        type="number"
        dataKey="x"
        domain={domain}
        reversed
        allowDataOverflow
        hide={!axis}
        height={axis ? AXIS_H : 0}
        ticks={ticks}
        interval={0}
        tick={tick}
        tickLine={false}
        tickSize={0}
        tickMargin={0}
        axisLine={{ stroke: "#1c1c1c", strokeWidth: 2 }}
      />
      <YAxis type="number" domain={[0, 100]} hide allowDataOverflow />
      {sub.peaks.map((pk: Peak) => (
        <Area
          key={pk.key}
          type="monotone"
          dataKey={pk.key}
          stroke={pk.line}
          strokeWidth={1.2}
          fill={`url(#${sub.id}-${pk.key})`}
          fillOpacity={0.95}
          baseValue={Math.min(...pk.pts.map((q) => q[1]))}
          connectNulls
          dot={false}
          activeDot={false}
          isAnimationActive={false}
        />
      ))}
      <Area
        type="monotone"
        dataKey="bg"
        stroke="#4a4a4a"
        strokeWidth={1.6}
        fill="#ffffff"
        fillOpacity={1}
        baseValue={0}
        connectNulls
        dot={false}
        activeDot={false}
        isAnimationActive={false}
      />
      <Line
        type="monotone"
        dataKey="raw"
        stroke="#dcdcdc"
        strokeWidth={2}
        dot={false}
        activeDot={false}
        connectNulls
        isAnimationActive={false}
      />
      <Line
        type="monotone"
        dataKey="raw"
        stroke="#a8a8a8"
        strokeWidth={4.2}
        strokeLinecap="round"
        strokeDasharray="0.1 4.6"
        dot={false}
        activeDot={false}
        connectNulls
        isAnimationActive={false}
      />
      <Line
        type="monotone"
        dataKey="fit"
        stroke="#505050"
        strokeWidth={1.3}
        dot={false}
        activeDot={false}
        connectNulls
        isAnimationActive={false}
      />
      {sub.arrows.map((ar: [Pt, Pt], i: number) => (
        <ReferenceLine
          key={i}
          segment={[{ x: ar[0][0], y: ar[0][1] }, { x: ar[1][0], y: ar[1][1] }]}
          ifOverflow="visible"
          shape={ArrowShape}
        />
      ))}
    </ComposedChart>
  );
}

function Panel({ p }: { p: any }) {
  const ticks = [...p.majors, ...p.minors].sort((a: number, b: number) => a - b);
  const tick = makeTick(p.majors, p.tickFont, p.tickDy);
  return (
    <>
      <div style={{ position: "absolute", left: p.left - 30, top: p.top }}>
        <SubChart sub={p.subs[0]} width={p.width} height={p.hTop} domain={p.domain} />
      </div>
      <div style={{ position: "absolute", left: p.left - 30, top: p.top + p.hTop }}>
        <SubChart sub={p.subs[1]} width={p.width} height={p.hBot} domain={p.domain} ticks={ticks} tick={tick} />
      </div>
      <div
        style={{
          position: "absolute",
          left: p.left,
          top: p.top,
          width: p.width,
          height: p.hTop + p.hBot,
          border: "2px solid #1c1c1c",
          boxSizing: "border-box",
          pointerEvents: "none",
        }}
      />
      <div style={{ position: "absolute", left: p.left, top: p.top + p.hTop - 1, width: p.width, height: 2, background: "#1c1c1c" }} />
      <div
        style={{
          position: "absolute",
          left: p.left,
          width: p.width,
          top: p.titleBase - 27,
          textAlign: "center",
          fontSize: 32,
          lineHeight: "32px",
          whiteSpace: "nowrap",
        }}
      >
        {p.title}
      </div>
    </>
  );
}

export default function App() {
  return (
    <div
      style={{
        position: "absolute",
        left: 0,
        top: 0,
        width: 1493,
        height: 2008,
        background: "#fff",
        overflow: "hidden",
        fontFamily: FONT,
        fontWeight: 700,
        color: "#111",
      }}
    >
      {PANELS.map((p) => (
        <Panel key={p.key} p={p} />
      ))}
      {PEAK_LABELS.map((l, i) => {
        const lh = l.lh ?? 28;
        return (
          <div
            key={i}
            style={{
              position: "absolute",
              left: l.x,
              top: l.y - lh / 2,
              transform: "translateX(-50%)",
              textAlign: "center",
              fontSize: 22,
              lineHeight: `${lh}px`,
              whiteSpace: "nowrap",
            }}
          >
            {l.lines.map((ln, j) => (
              <div key={j}>{ln}</div>
            ))}
          </div>
        );
      })}
      {SAMPLES.map((s, i) => (
        <div
          key={i}
          style={{ position: "absolute", left: s.x, top: s.base - 27, fontSize: 32, lineHeight: "32px", color: "#ff0000", whiteSpace: "nowrap" }}
        >
          {s.t}
        </div>
      ))}
      {LETTERS.map((s, i) => (
        <div
          key={i}
          style={{ position: "absolute", left: s.x, top: s.base - 49, fontSize: 58, lineHeight: "58px", color: "#ff0000", whiteSpace: "nowrap" }}
        >
          {s.t}
        </div>
      ))}
    </div>
  );
}
